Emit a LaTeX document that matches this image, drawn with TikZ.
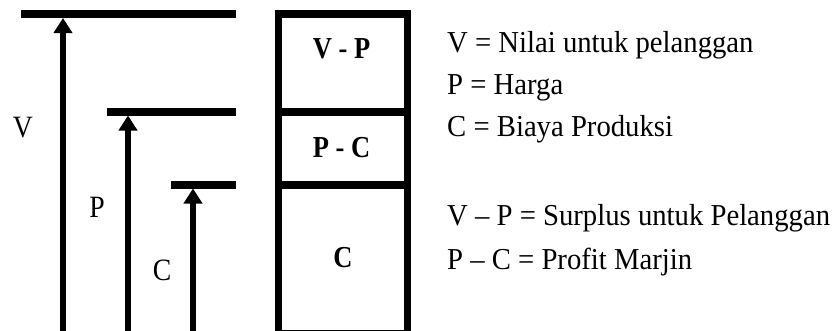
\documentclass[tikz,border=0pt]{standalone}
\usepackage{fontspec}
\setmainfont{Liberation Serif}
\usetikzlibrary{arrows.meta}
\newcommand\stretchtxt[2]{\scalebox{1}[#1]{#2}}
\begin{document}
\begin{tikzpicture}[x=1pt,y=-1pt,
  bar/.style={line width=8pt},
  uparrow/.style={line width=6pt,-{Triangle[width=18pt,length=15pt]}},
  frame/.style={line width=7.5pt},
  lbl/.style={font=\fontsize{27.7}{34}\selectfont, inner sep=0pt, anchor=base},
  boxlbl/.style={font=\fontsize{26.5}{34}\selectfont\bfseries, inner sep=0pt, anchor=base},
  legend/.style={font=\fontsize{28.7}{34}\selectfont, inner sep=0pt, anchor=base west}]
\useasboundingbox (0,0) rectangle (833,330);
% bars
\coordinate (vl) at (21,14);   \coordinate (vr) at (236,14);
\coordinate (pl) at (107,111.5); \coordinate (pr) at (236,111.5);
\coordinate (cl) at (171,184.5); \coordinate (cr) at (236,184.5);
\draw[bar] (vl) -- (vr);
\draw[bar] (pl) -- (pr);
\draw[bar] (cl) -- (cr);
% arrows
\coordinate (vb) at (63,340);  \coordinate (vt) at (63,18);
\coordinate (pb) at (128,340); \coordinate (pt) at (128,115.5);
\coordinate (cb) at (193,340); \coordinate (ct) at (193,188.5);
\draw[uparrow] (vb) -- (vt);
\draw[uparrow] (pb) -- (pt);
\draw[uparrow] (cb) -- (ct);
% labels
\node[lbl] (lv) at (23,137) {\stretchtxt{1.12}{V}};
\node[lbl] (lp) at (97,217) {\stretchtxt{1.12}{P}};
\node[lbl] (lc) at (162,280) {\stretchtxt{1.12}{C}};
% box
\draw[frame] (278.5,14) rectangle (407.5,334);
\draw[bar] (275,111.5) -- (411,111.5);
\draw[bar] (275,184.5) -- (411,184.5);
\node[boxlbl] (bvp) at (341.5,58) {\stretchtxt{1.15}{V - P}};
\node[boxlbl] (bpc) at (341.5,157) {\stretchtxt{1.15}{P - C}};
\node[boxlbl] (bc) at (343,267) {\stretchtxt{1.15}{C}};
% legend
\node[legend] (l1) at (447,52) {\stretchtxt{1.06}{V = Nilai untuk pelanggan}};
\node[legend] (l2) at (447,94) {\stretchtxt{1.06}{P = Harga}};
\node[legend] (l3) at (447,136) {\stretchtxt{1.06}{C = Biaya Produksi}};
\node[legend] (l4) at (447,225) {\stretchtxt{1.06}{V – P = Surplus untuk Pelanggan}};
\node[legend] (l5) at (447,269) {\stretchtxt{1.06}{P – C = Profit Marjin}};
\end{tikzpicture}
\end{document}
